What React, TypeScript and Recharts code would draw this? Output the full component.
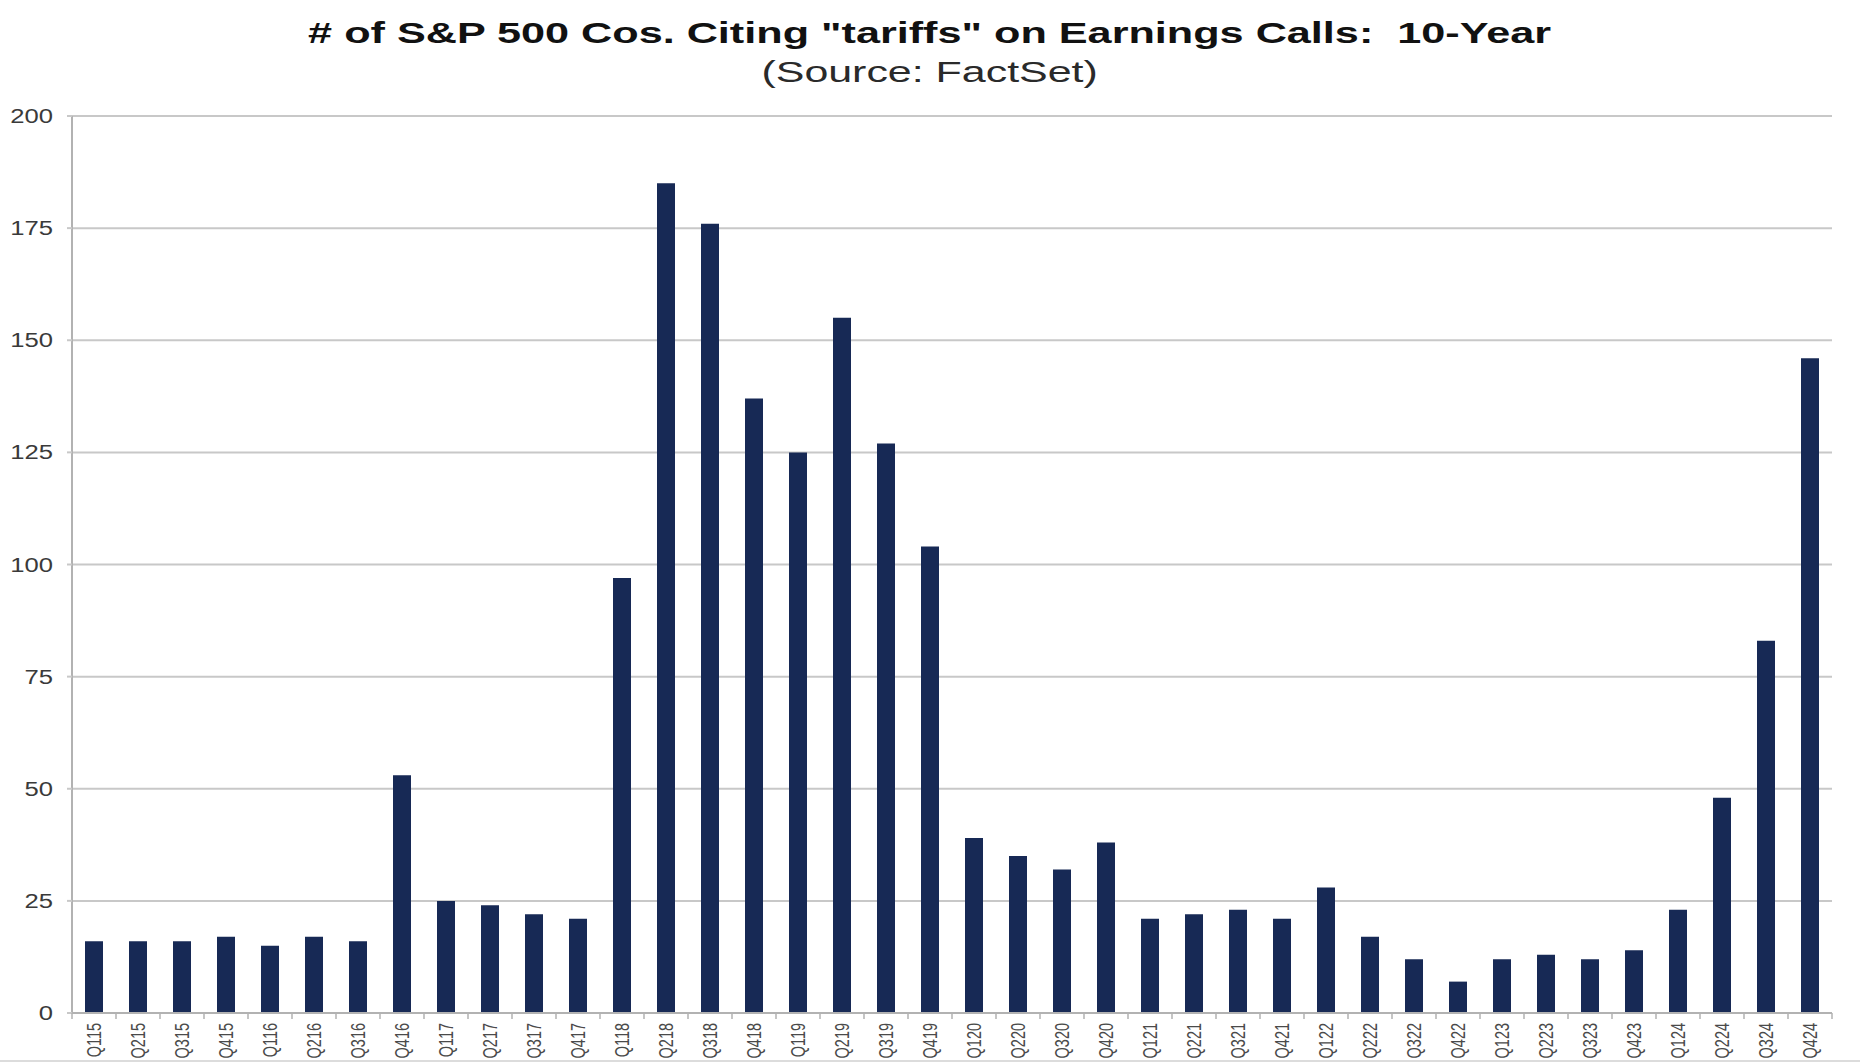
import React from "react";
import { Bar, BarChart, CartesianGrid, XAxis, YAxis } from "recharts";

const quarters = [
  "Q115", "Q215", "Q315", "Q415",
  "Q116", "Q216", "Q316", "Q416",
  "Q117", "Q217", "Q317", "Q417",
  "Q118", "Q218", "Q318", "Q418",
  "Q119", "Q219", "Q319", "Q419",
  "Q120", "Q220", "Q320", "Q420",
  "Q121", "Q221", "Q321", "Q421",
  "Q122", "Q222", "Q322", "Q422",
  "Q123", "Q223", "Q323", "Q423",
  "Q124", "Q224", "Q324", "Q424",
];

// companies citing "tariffs" per quarter
const companies = [
  16, 16, 16, 17,
  15, 17, 16, 53,
  25, 24, 22, 21,
  97, 185, 176, 137,
  125, 155, 127, 104,
  39, 35, 32, 38,
  21, 22, 23, 21,
  28, 17, 12, 7,
  12, 13, 12, 14,
  23, 48, 83, 146,
];

const yTicks = [0, 25, 50, 75, 100, 125, 150, 175, 200];

const title = '# of S&P 500 Cos. Citing "tariffs" on Earnings Calls:\u00a0 10-Year';
const subtitle = "(Source: FactSet)";

const data = quarters.map((q, i) => ({ q, count: companies[i] }));

const FONT = '"Liberation Sans", Arial, sans-serif';
const GRID = "#c8c8c8";
const AXIS = "#b2b2b2";

function QuarterTick(props: any) {
  const { x, y, payload, index } = props;
  const half = payload?.offset || 22;
  return (
    <g>
      <line x1={x - half} x2={x - half} y1={y} y2={y + 6} stroke={AXIS} strokeWidth={1.5} />
      {index === quarters.length - 1 && (
        <line x1={x + half} x2={x + half} y1={y} y2={y + 6} stroke={AXIS} strokeWidth={1.5} />
      )}
      <text
        transform={`translate(${x},${y + 10}) scale(1.4,1) rotate(-90)`}
        textAnchor="end"
        dominantBaseline="central"
        fontSize={14.5}
        fontFamily={FONT}
        fill="#4a4a4a"
      >
        {payload.value}
      </text>
    </g>
  );
}

function CountTick(props: any) {
  const { x, y, payload } = props;
  return (
    <text
      transform={`translate(${x},${y}) scale(1.25,1)`}
      textAnchor="end"
      dominantBaseline="central"
      fontSize={20.5}
      fontFamily={FONT}
      fill="#3a3a3a"
    >
      {payload.value}
    </text>
  );
}

export default function App() {
  return (
    <div
      style={{
        position: "fixed",
        left: 0,
        top: 0,
        width: 1860,
        height: 1064,
        background: "#fff",
        fontFamily: FONT,
        overflow: "hidden",
      }}
    >
      <div
        style={{
          position: "absolute",
          left: 0,
          top: 18,
          width: 1860,
          textAlign: "center",
          fontSize: 30,
          lineHeight: "30px",
          fontWeight: 700,
          color: "#111",
          whiteSpace: "nowrap",
        }}
      >
        <span style={{ display: "inline-block", transform: "scaleX(1.44)" }}>{title}</span>
      </div>
      <div
        style={{
          position: "absolute",
          left: 0,
          top: 58,
          width: 1860,
          textAlign: "center",
          fontSize: 29,
          lineHeight: "29px",
          color: "#2a2a2a",
          whiteSpace: "nowrap",
        }}
      >
        <span style={{ display: "inline-block", transform: "scaleX(1.48)" }}>{subtitle}</span>
      </div>
      <div style={{ position: "absolute", left: 0, top: 0 }}>
        <BarChart
          width={1860}
          height={1062}
          data={data}
          margin={{ top: 116, right: 28, bottom: 0, left: 0 }}
        >
          <CartesianGrid vertical={false} stroke={GRID} strokeWidth={2} />
          <XAxis
            dataKey="q"
            interval={0}
            height={49}
            tickSize={0}
            tickMargin={0}
            tickLine={false}
            axisLine={{ stroke: AXIS, strokeWidth: 2 }}
            tick={<QuarterTick />}
          />
          <YAxis
            domain={[0, 200]}
            ticks={yTicks}
            width={72}
            tickSize={5}
            tickMargin={14}
            tickLine={{ stroke: GRID, strokeWidth: 2 }}
            axisLine={{ stroke: AXIS, strokeWidth: 2 }}
            tick={<CountTick />}
          />
          <Bar dataKey="count" fill="#172955" barSize={18} isAnimationActive={false} />
        </BarChart>
      </div>
      <div
        style={{
          position: "absolute",
          left: 0,
          top: 1060,
          width: 1860,
          height: 2,
          background: "#dcdcdc",
        }}
      />
    </div>
  );
}
